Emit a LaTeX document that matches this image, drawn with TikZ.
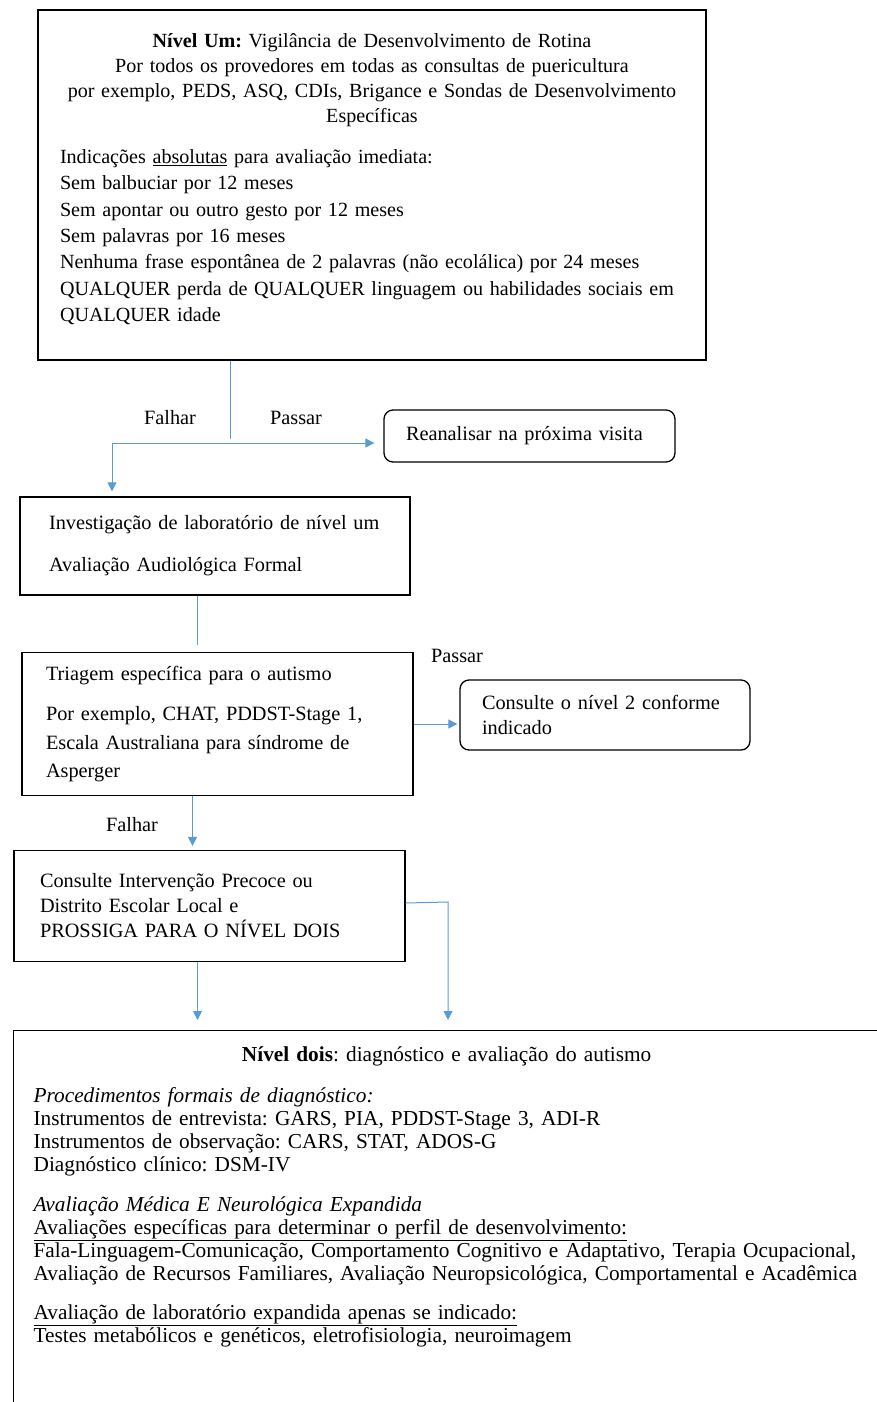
\documentclass[tikz,border=0pt]{standalone}
\usepackage{fontspec}
\setmainfont{Liberation Serif}
\usetikzlibrary{arrows.meta, calc, positioning}
\definecolor{azul}{RGB}{91,155,213}
\tikzset{%
    caixa/.style={rectangle, draw, line width=1.3pt, align=left, inner ysep=4pt},
    caixar/.style={caixa, rounded corners=9pt},
    liga/.style={line width=1pt, draw=azul},
    seta/.style={line width=1pt, draw=azul, -{Triangle[length=9pt, width=9pt]}},
    rot/.style={inner sep=1pt},
}
\frenchspacing

\begin{document}
\begin{tikzpicture}[x=1pt, y=-1pt, font=\fontsize{20.3}{25}\selectfont]
    \useasboundingbox (0,0) rectangle (877,1402);
    \node[caixa, minimum width=668, minimum height=350, inner xsep=20pt, text width=628pt,
          font=\fontsize{20.1}{25}\selectfont] (um) at (372,185)
        {{\centering\textbf{Nível Um:} Vigilância de Desenvolvimento de Rotina\\
          Por todos os provedores em todas as consultas de puericultura\\
          por exemplo, PEDS, ASQ, CDIs, Brigance e Sondas de Desenvolvimento\\
          Específicas\par}
         \vspace{15pt}
         {\fontsize{20.1}{26.3}\selectfont
         \hspace*{2pt}Indicações \underline{absolutas} para avaliação imediata:\\
         \hspace*{2pt}Sem balbuciar por 12 meses\\
         \hspace*{2pt}Sem apontar ou outro gesto por 12 meses\\
         \hspace*{2pt}Sem palavras por 16 meses\\
         \hspace*{2pt}Nenhuma frase espontânea de 2 palavras (não ecolálica) por 24 meses\\
         \hspace*{2pt}QUALQUER perda de QUALQUER linguagem ou habilidades sociais em\\
         \hspace*{2pt}QUALQUER idade\par}
         \nointerlineskip\rule{0pt}{12pt}};
    \node[caixar, minimum width=291, minimum height=52, inner xsep=22pt, text width=247pt] (reanalisar) at (529.5,436)
        {Reanalisar na próxima visita};
    \node[caixa, minimum width=390, minimum height=98, inner xsep=26pt, text width=338pt] (labum) at (215,546)
        {\hspace*{3pt}Investigação de laboratório de nível um\\[17pt]
         \hspace*{3pt}Avaliação Audiológica Formal};
    \node[caixa, minimum width=391, minimum height=143, inner xsep=24pt, text width=343pt,
          font=\fontsize{20.3}{28.5}\selectfont] (triagem) at (217.5,724)
        {Triagem específica para o autismo\\[12pt]
         Por exemplo, CHAT, PDDST-Stage 1,\\
         Escala Australiana para síndrome de\\
         Asperger};
    \node[caixar, minimum width=290, minimum height=70, inner xsep=22pt, text width=246pt] (nivel2) at (605,715)
        {Consulte o nível 2 conforme\\
         indicado};
    \node[caixa, minimum width=391, minimum height=111, inner xsep=26pt, text width=339pt] (precoce) at (209.5,906)
        {Consulte Intervenção Precoce ou\\
         Distrito Escolar Local e\\
         PROSSIGA PARA O NÍVEL DOIS};
    \node[caixa, anchor=north west, minimum width=866, inner xsep=20pt, inner ysep=16pt, text width=826pt,
          font=\fontsize{21.3}{23}\selectfont] (dois) at (13,1030)
        {{\centering\textbf{Nível dois}: diagnóstico e avaliação do autismo\par}
         \vspace{18pt}
         \textit{Procedimentos formais de diagnóstico:}\\
         Instrumentos de entrevista: GARS, PIA, PDDST-Stage 3, ADI-R\\
         Instrumentos de observação: CARS, STAT, ADOS-G\\
         Diagnóstico clínico: DSM-IV\par
         \vspace{17pt}
         \textit{Avaliação Médica E Neurológica Expandida}\\
         \underline{Avaliações específicas para determinar o perfil de desenvolvimento:}\\
         Fala-Linguagem-Comunicação, Comportamento Cognitivo e Adaptativo, Terapia Ocupacional,\\
         Avaliação de Recursos Familiares, Avaliação Neuropsicológica, Comportamental e Acadêmica\par
         \vspace{16pt}
         \underline{Avaliação de laboratório expandida apenas se indicado:}\\
         Testes metabólicos e genéticos, eletrofisiologia, neuroimagem\par
         \rule{0pt}{90pt}};
    \coordinate (bif) at (230,443);
    \coordinate (esq) at (112,443);
    \coordinate (dobra) at (448,902);
    \draw[liga] (um.south -| bif) -- ([yshift=4pt]bif);
    \draw[seta, shorten >=9pt] (esq) -- (reanalisar.west |- esq);
    \draw[seta, shorten >=5pt] (esq) -- (esq |- labum.north);
    \node[rot] (falhar1) at (170,418) {Falhar};
    \node[rot] (passar1) at (296,418) {Passar};
    \draw[liga, shorten >=7pt] ([xshift=-18pt]labum.south) -- ([xshift=-18pt]labum.south |- triagem.north);
    \draw[seta, shorten >=2pt] (triagem.east) -- (triagem.east -| nivel2.west);
    \node[rot] (passar2) at (457,656) {Passar};
    \draw[seta, shorten >=4pt] ([xshift=-25pt]triagem.south) -- ([xshift=-25pt]triagem.south |- precoce.north);
    \node[rot] (falhar2) at (132,825) {Falhar};
    \draw[seta, shorten >=10pt] ([xshift=-12pt]precoce.south) -- ([xshift=-12pt]precoce.south |- dois.north);
    \draw[seta, shorten >=10pt] ([yshift=3pt]precoce.east) -- (dobra) -- (dobra |- dois.north);
\end{tikzpicture}
\end{document}
